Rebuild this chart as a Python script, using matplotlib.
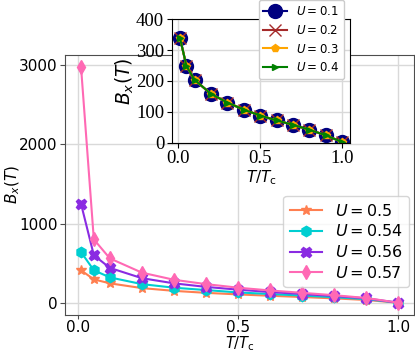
import numpy as np
import matplotlib
matplotlib.use("Agg")
import matplotlib.pyplot as plt

plt.rcParams["font.serif"] = ["Liberation Serif", "Times New Roman", "DejaVu Serif"]

# Données
t_tc = [0.01, 0.05, 0.1, 0.2, 0.3, 0.4, 0.5, 0.6, 0.7, 0.8, 0.9, 1.0]

# Panneau principal
u_main = ["0.5", "0.54", "0.56", "0.57"]
bx_050 = [410, 295, 245, 185, 150, 125, 105, 88, 72, 55, 35, 0]
bx_054 = [640, 410, 320, 235, 190, 160, 130, 110, 90, 70, 45, 0]
bx_056 = [1250, 600, 440, 310, 245, 200, 165, 135, 110, 85, 55, 0]
bx_057 = [2980, 800, 560, 380, 290, 235, 190, 155, 125, 95, 60, 0]

# Encart
u_inset = ["0.1", "0.2", "0.3", "0.4"]
bx_small = [340, 248, 203, 158, 130, 107, 88, 72, 58, 42, 24, 2]
inset_xticks = [0.0, 0.5, 1.0]
inset_yticks = [0, 100, 200, 300, 400]

main_series = [bx_050, bx_054, bx_056, bx_057]
main_colors = ["coral", "darkturquoise", "blueviolet", "hotpink"]
main_markers = ["*", "h", "X", "d"]

inset_colors = ["navy", "brown", "orange", "green"]
inset_markers = ["o", "x", "p", ">"]
inset_msize = [10, 9, 6, 4]

fig = plt.figure(figsize=(4.15, 3.55), dpi=100)
ax = fig.add_axes([0.157, 0.114, 0.841, 0.731])

for u, y, c, m in zip(u_main, main_series, main_colors, main_markers):
    ax.plot(t_tc, y, marker=m, color=c, markersize=7.5, lw=1.5,
            label=r"$U = %s$" % u)

ax.grid(True, color="0.85", lw=1)
ax.set_xticks([0.0, 0.5, 1.0])
ax.set_yticks([0, 1000, 2000, 3000])
ax.tick_params(labelsize=11, color="0.3", pad=2)
ax.tick_params(axis="x", pad=1, length=3)
for sp in ax.spines.values():
    sp.set_color("0.3")
ax.set_xlabel(r"$T/T_{\rm c}$", fontsize=10.5)
ax.xaxis.set_label_coords(0.5, -0.077)
ax.set_ylabel(r"$B_x(T)$", fontsize=11)
ax.yaxis.set_label_coords(-0.125, 0.5)
ax.legend(loc="lower right", bbox_to_anchor=(0.985, 0.105), fontsize=11.5,
          borderaxespad=0, handlelength=2, labelspacing=0.3,
          borderpad=0.4)

# Encart
axin = fig.add_axes([0.414, 0.598, 0.43, 0.348])
for u, c, m, ms in zip(u_inset, inset_colors, inset_markers, inset_msize):
    axin.plot(t_tc, bx_small, marker=m, color=c, markersize=ms, lw=1.5,
              label=r"$U = %s$" % u)
axin.set_ylim(0, 400)
axin.set_xticks(inset_xticks, ["%.1f" % v for v in inset_xticks],
                fontfamily="serif", fontsize=13.5)
axin.set_yticks(inset_yticks, [str(v) for v in inset_yticks],
                fontfamily="serif", fontsize=13.5)
axin.grid(True, color="0.85", lw=1)
axin.tick_params(pad=2)
axin.set_xlabel(r"$T/T_{\rm c}$", fontsize=11, labelpad=1)
axin.set_ylabel(r"$B_x(T)$", fontsize=13.5, labelpad=0)
axin.legend(loc="upper right", bbox_to_anchor=(0.966, 1.155), fontsize=8.5,
            borderaxespad=0, framealpha=1, labelspacing=0.5)

fig.savefig("out.png", dpi=100)
